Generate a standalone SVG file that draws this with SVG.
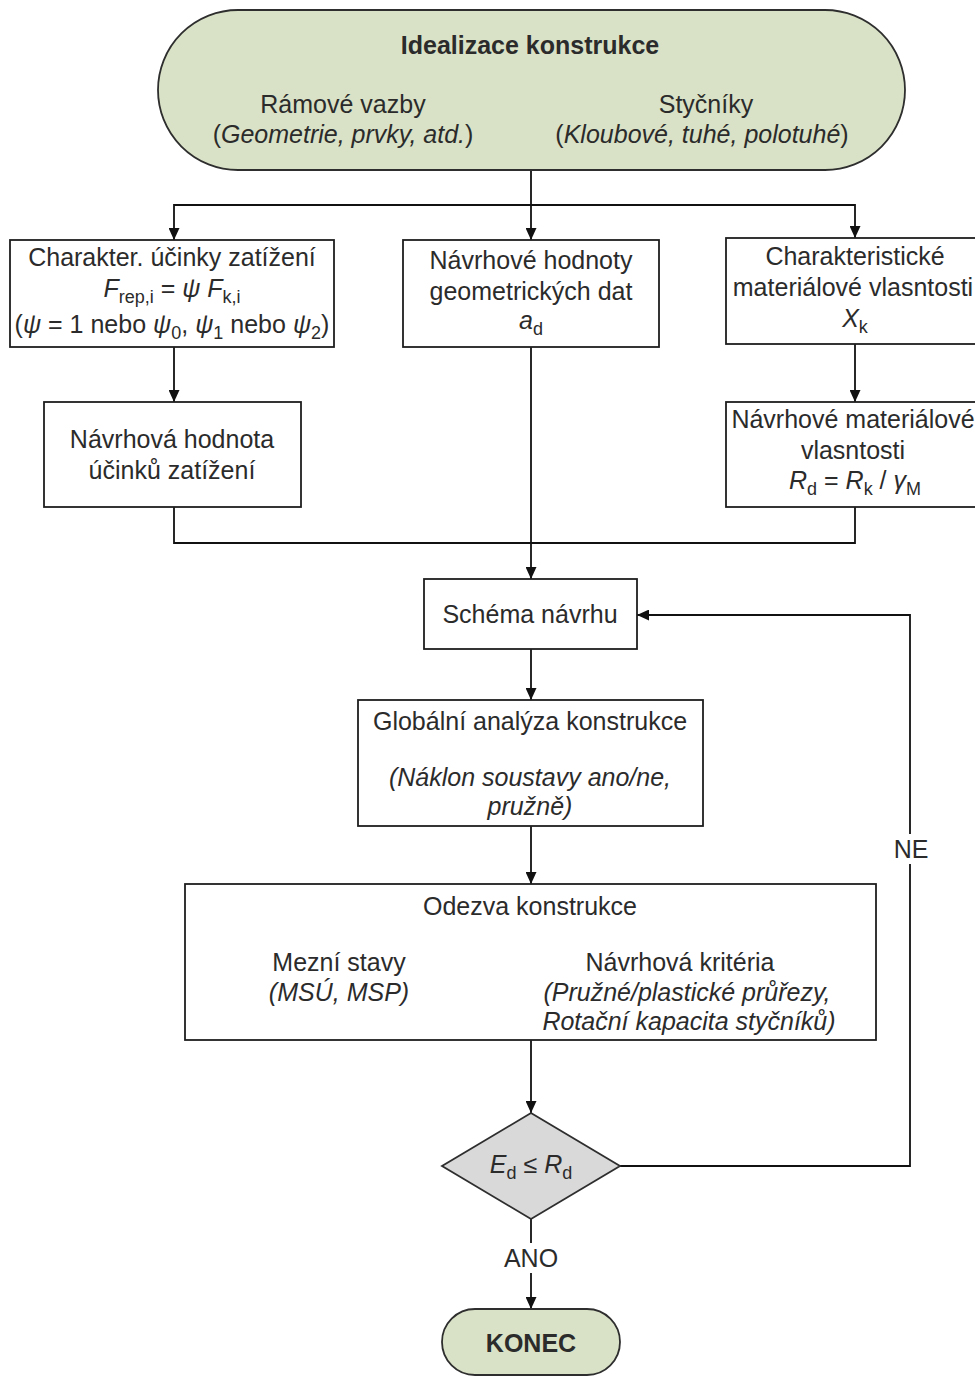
<svg xmlns="http://www.w3.org/2000/svg" width="975" height="1376" viewBox="0 0 975 1376">
<defs>
<style>
.t{font-family:"Liberation Sans",Arial,sans-serif;font-size:25px;fill:#2b2b2b;text-anchor:middle}
.b{font-weight:bold}
.i{font-style:italic}
.s{font-size:18px}
.box{fill:#ffffff;stroke:#1e1e1e;stroke-width:1.8}
.term{fill:#d9e2c6;stroke:#2e2e2e;stroke-width:1.8}
.dia{fill:#d9d9d9;stroke:#2e2e2e;stroke-width:1.8}
.c{fill:none;stroke:#111;stroke-width:1.8}
.lbl{fill:#ffffff;stroke:none}
</style>
<marker id="ah" viewBox="0 0 12 11" refX="12" refY="5.5" markerWidth="12" markerHeight="11" markerUnits="userSpaceOnUse" orient="auto">
<path d="M0,0 L12,5.5 L0,11 z" fill="#111"/>
</marker>
</defs>
<rect width="975" height="1376" fill="#ffffff"/>

<g id="connectors">
<path class="c" d="M531,170 V205 H174 V240" marker-end="url(#ah)"/>
<path class="c" d="M531,205 V240" marker-end="url(#ah)"/>
<path class="c" d="M531,205 H855 V238" marker-end="url(#ah)"/>
<path class="c" d="M174,347 V402" marker-end="url(#ah)"/>
<path class="c" d="M855,344 V402" marker-end="url(#ah)"/>
<path class="c" d="M174,507 V543 H855 V507"/>
<path class="c" d="M531,347 V579" marker-end="url(#ah)"/>
<path class="c" d="M531,649 V700" marker-end="url(#ah)"/>
<path class="c" d="M531,826 V884" marker-end="url(#ah)"/>
<path class="c" d="M531,1040 V1113" marker-end="url(#ah)"/>
<path class="c" d="M620,1166 H910 V615 H637" marker-end="url(#ah)"/>
<path class="c" d="M531,1219 V1309" marker-end="url(#ah)"/>
<g id="label-ne">
<rect class="lbl" x="892" y="834" width="38" height="30"/>
<text class="t" x="911" y="858">NE</text>
</g>
<g id="label-ano">
<rect class="lbl" x="503" y="1243" width="56" height="30"/>
<text class="t" x="531" y="1267">ANO</text>
</g>
</g>

<g id="n-idealizace">
<rect class="term" x="158" y="10" width="747" height="160" rx="80" ry="80"/>
<text class="t b" x="530" y="54">Idealizace konstrukce</text>
<text class="t" x="343" y="113">Rámové vazby</text>
<text class="t" x="343" y="143">(<tspan class="i">Geometrie, prvky, atd.</tspan>)</text>
<text class="t" x="706" y="113">Styčníky</text>
<text class="t" x="702" y="143">(<tspan class="i">Kloubové, tuhé, polotuhé</tspan>)</text>
</g>

<g id="n-charakter-ucinky">
<rect class="box" x="10" y="240" width="324" height="107"/>
<text class="t" x="172" y="266">Charakter. účinky zatížení</text>
<text class="t" x="172" y="297"><tspan class="i">F</tspan><tspan class="s" dy="6">rep,i</tspan><tspan dy="-6"> = </tspan><tspan class="i">ψ F</tspan><tspan class="s" dy="6">k,i</tspan></text>
<text class="t" x="172" y="333">(<tspan class="i">ψ</tspan> = 1 nebo <tspan class="i">ψ</tspan><tspan class="s" dy="6">0</tspan><tspan dy="-6">, </tspan><tspan class="i">ψ</tspan><tspan class="s" dy="6">1</tspan><tspan dy="-6"> nebo </tspan><tspan class="i">ψ</tspan><tspan class="s" dy="6">2</tspan><tspan dy="-6">)</tspan></text>
</g>

<g id="n-geometricka-data">
<rect class="box" x="403" y="240" width="256" height="107"/>
<text class="t" x="531" y="269">Návrhové hodnoty</text>
<text class="t" x="531" y="300">geometrických dat</text>
<text class="t" x="531" y="329"><tspan class="i">a</tspan><tspan class="s" dy="6">d</tspan></text>
</g>

<g id="n-charakter-material">
<rect class="box" x="726" y="238" width="260" height="106"/>
<text class="t" x="855" y="265">Charakteristické</text>
<text class="t" x="853" y="296">materiálové vlasntosti</text>
<text class="t" x="855" y="327"><tspan class="i">X</tspan><tspan class="s" dy="6">k</tspan></text>
</g>

<g id="n-navrhova-hodnota">
<rect class="box" x="44" y="402" width="257" height="105"/>
<text class="t" x="172" y="448">Návrhová hodnota</text>
<text class="t" x="172" y="479">účinků zatížení</text>
</g>

<g id="n-navrhove-material">
<rect class="box" x="726" y="402" width="260" height="105"/>
<text class="t" x="853" y="428">Návrhové materiálové</text>
<text class="t" x="853" y="459">vlasntosti</text>
<text class="t" x="855" y="489"><tspan class="i">R</tspan><tspan class="s" dy="6">d</tspan><tspan dy="-6"> = </tspan><tspan class="i">R</tspan><tspan class="s" dy="6">k</tspan><tspan dy="-6"> / </tspan><tspan class="i">γ</tspan><tspan class="s" dy="6">M</tspan></text>
</g>

<g id="n-schema">
<rect class="box" x="424" y="579" width="213" height="70"/>
<text class="t" x="530" y="623">Schéma návrhu</text>
</g>

<g id="n-globalni">
<rect class="box" x="358" y="700" width="345" height="126"/>
<text class="t" x="530" y="730">Globální analýza konstrukce</text>
<text class="t i" x="530" y="786">(Náklon soustavy ano/ne,</text>
<text class="t i" x="530" y="815">pružně)</text>
</g>

<g id="n-odezva">
<rect class="box" x="185" y="884" width="691" height="156"/>
<text class="t" x="530" y="915">Odezva konstrukce</text>
<text class="t" x="339" y="971">Mezní stavy</text>
<text class="t i" x="339" y="1001">(MSÚ, MSP)</text>
<text class="t" x="680" y="971">Návrhová kritéria</text>
<text class="t i" x="687" y="1001">(Pružné/plastické průřezy,</text>
<text class="t i" x="689" y="1030">Rotační kapacita styčníků)</text>
</g>

<g id="n-podminka">
<polygon class="dia" points="531,1113 620,1166 531,1219 442,1166"/>
<text class="t" x="531" y="1173"><tspan class="i">E</tspan><tspan class="s" dy="6">d</tspan><tspan dy="-6"> ≤ </tspan><tspan class="i">R</tspan><tspan class="s" dy="6">d</tspan></text>
</g>

<g id="n-konec">
<rect class="term" x="442" y="1309" width="178" height="66" rx="33" ry="33"/>
<text class="t b" x="531" y="1352">KONEC</text>
</g>
</svg>
